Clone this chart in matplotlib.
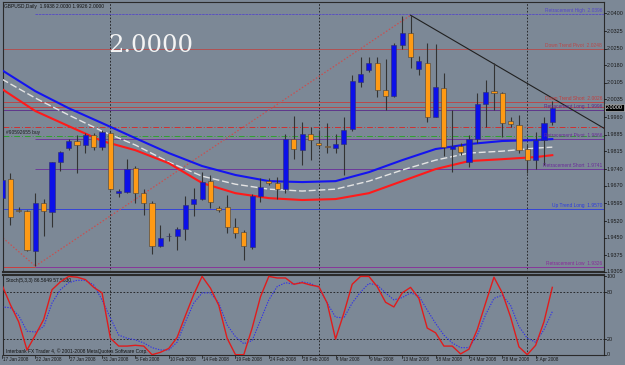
import numpy as np
import matplotlib
matplotlib.use("Agg")
import matplotlib.pyplot as plt
from matplotlib.transforms import blended_transform_factory

# --- data (GBPUSD daily) ---
opens = [1.9617, 1.9698, 1.9566, 1.9562, 1.9393, 1.9596, 1.9558, 1.9770, 1.9829, 1.9859,
         1.9842, 1.9884, 1.9833, 1.9892, 1.9638, 1.9643, 1.9744, 1.9638, 1.9596, 1.9414,
         1.9456, 1.9456, 1.9486, 1.9592, 1.9613, 1.9689, 1.9575, 1.9579, 1.9494, 1.9473,
         1.9409, 1.9626, 1.9689, 1.9681, 1.9655, 1.9867, 1.9820, 1.9888, 1.9850, 1.9837,
         1.9829, 1.9846, 1.9909, 2.0109, 2.0159, 2.0189, 2.0075, 2.0049, 2.0265, 2.0316,
         2.0164, 2.0189, 1.9960, 2.0083, 1.9825, 1.9837, 1.9770, 1.9867, 2.0015, 2.0070,
         2.0062, 1.9943, 1.9926, 1.9825, 1.9778, 1.9863, 1.9938]
highs = [1.9787, 1.9723, 1.9579, 1.9566, 1.9638, 1.9613, 1.9772, 1.9815, 1.9867, 1.9884,
         1.9892, 1.9892, 1.9905, 1.9901, 1.9655, 1.9782, 1.9752, 1.9655, 1.9604, 1.9503,
         1.9469, 1.9494, 1.9626, 1.9659, 1.9727, 1.9715, 1.9583, 1.9630, 1.9532, 1.9481,
         1.9634, 1.9702, 1.9702, 1.9706, 1.9888, 1.9964, 1.9939, 1.9918, 1.9905, 1.9935,
         1.9888, 1.9960, 2.0138, 2.0215, 2.0215, 2.0215, 2.0206, 2.0274, 2.0388, 2.0392,
         2.0219, 2.0274, 2.0270, 2.0147, 1.9990, 1.9850, 1.9884, 2.0062, 2.0117, 2.0189,
         2.0066, 1.9960, 1.9969, 1.9842, 1.9897, 1.9960, 2.0030]
lows = [1.9609, 1.9503, 1.9558, 1.9393, 1.9329, 1.9456, 1.9494, 1.9731, 1.9820, 1.9723,
        1.9808, 1.9820, 1.9820, 1.9651, 1.9621, 1.9638, 1.9596, 1.9545, 1.9380, 1.9409,
        1.9435, 1.9397, 1.9439, 1.9541, 1.9609, 1.9575, 1.9558, 1.9469, 1.9448, 1.9354,
        1.9401, 1.9600, 1.9672, 1.9613, 1.9638, 1.9782, 1.9757, 1.9778, 1.9833, 1.9808,
        1.9808, 1.9715, 1.9901, 2.0087, 2.0151, 2.0045, 1.9990, 2.0045, 2.0248, 2.0168,
        2.0138, 1.9939, 1.9960, 1.9795, 1.9727, 1.9799, 1.9748, 1.9850, 1.9918, 1.9990,
        1.9875, 1.9918, 1.9808, 1.9723, 1.9740, 1.9757, 1.9926]
closes = [1.9693, 1.9537, 1.9562, 1.9397, 1.9596, 1.9562, 1.9770, 1.9812, 1.9859, 1.9842,
          1.9884, 1.9833, 1.9897, 1.9655, 1.9647, 1.9740, 1.9638, 1.9596, 1.9414, 1.9448,
          1.9458, 1.9486, 1.9587, 1.9613, 1.9685, 1.9600, 1.9568, 1.9494, 1.9469, 1.9414,
          1.9626, 1.9664, 1.9681, 1.9655, 1.9867, 1.9825, 1.9888, 1.9863, 1.9842, 1.9833,
          1.9846, 1.9905, 2.0113, 2.0143, 2.0189, 2.0075, 2.0049, 2.0265, 2.0316, 2.0215,
          2.0198, 1.9960, 2.0087, 1.9833, 1.9837, 1.9812, 1.9867, 2.0015, 2.0066, 2.0062,
          1.9935, 1.9931, 1.9820, 1.9778, 1.9863, 1.9935, 2.0000]

# moving averages, sampled every 4 bars
ma_bars = [0, 4, 8, 12, 16, 20, 24, 28, 32, 36, 40, 44, 48, 52, 56, 60, 64, 66]
ma_blue = [2.0159, 2.0070, 1.9998, 1.9935, 1.9871, 1.9808, 1.9753, 1.9715, 1.9689,
           1.9685, 1.9689, 1.9727, 1.9778, 1.9825, 1.9846, 1.9859, 1.9863, 1.9867]
ma_white = [2.0121, 2.0041, 1.9969, 1.9901, 1.9842, 1.9770, 1.9710, 1.9676, 1.9655,
            1.9647, 1.9655, 1.9689, 1.9736, 1.9778, 1.9808, 1.9816, 1.9829, 1.9833]
ma_red = [2.0079, 1.9986, 1.9922, 1.9859, 1.9820, 1.9765, 1.9681, 1.9638, 1.9617,
          1.9609, 1.9613, 1.9638, 1.9689, 1.9740, 1.9774, 1.9782, 1.9791, 1.9799]

stoch_main = [89, 64, 42, 6, 25, 45, 83, 93, 100, 99, 96, 86, 79, 21, 11, 11, 12, 11, 0, 3,
              8, 22, 50, 77, 100, 85, 63, 21, 0, 0, 34, 74, 100, 98, 98, 90, 92, 89, 87, 66,
              20, 53, 90, 100, 100, 87, 67, 61, 79, 86, 72, 34, 28, 11, 11, 1, 7, 32, 66, 99,
              79, 48, 10, 0, 12, 42, 86]
stoch_signal = [61, 60, 50, 30, 29, 36, 66, 83, 92, 95, 95, 89, 70, 47, 25, 21, 19, 15, 9, 6,
                6, 16, 42, 66, 79, 79, 66, 38, 23, 14, 18, 44, 70, 87, 92, 90, 93, 91, 86, 66,
                48, 47, 66, 80, 91, 89, 79, 70, 73, 79, 75, 57, 40, 25, 15, 9, 9, 25, 51, 72,
                76, 63, 36, 21, 16, 32, 55]

date_labels = ["17 Jan 2008", "22 Jan 2008", "27 Jan 2008", "31 Jan 2008", "5 Feb 2008",
               "10 Feb 2008", "14 Feb 2008", "19 Feb 2008", "24 Feb 2008", "28 Feb 2008",
               "4 Mar 2008", "9 Mar 2008", "13 Mar 2008", "18 Mar 2008", "24 Mar 2008",
               "28 Mar 2008", "2 Apr 2008"]
price_ticks = [2.0400, 2.0325, 2.0250, 2.0180, 2.0105, 2.0035, 1.9960, 1.9885, 1.9815,
               1.9740, 1.9670, 1.9595, 1.9520, 1.9450, 1.9375, 1.9305]
stoch_ticks = [100, 80, 20, 0]

# named horizontal levels: (name, price, colour, starts at bar)
levels = [("Retracement High", 2.0396, "#5548c8", 4),
          ("Down Trend Pivot", 2.0248, "#b84848", None),
          ("Down Trend Short", 2.0026, "#c23e3e", None),
          ("Retracement Long", 1.9992, "#5a2a8a", None),
          ("Retracement Pivot", 1.9866, "#6a2c9a", 4),
          ("Retracement Short", 1.9741, "#6a2c9a", 4),
          ("Up Trend Long", 1.9570, "#2a3ae0", None),
          ("Retracement Low", 1.9326, "#8a2a9a", 4)]
label_text = {"Retracement High": "2.0396", "Down Trend Pivot": "2.0248",
              "Down Trend Short": "2.0026", "Retracement Long": "1.9996",
              "Retracement Pivot": "1.9866", "Retracement Short": "1.9741",
              "Up Trend Long": "1.9570", "Retracement Low": "1.9326"}
last_price = 2.0000

bg = "#7c8896"
W, H = 625, 365
ylo, yhi = 1.9304, 2.0448
slo, shi = -0.4, 101.8
plt.rcParams['font.family'] = ['Liberation Sans', 'DejaVu Sans']
fig = plt.figure(figsize=(6.25, 3.65), dpi=100, facecolor=bg)

xl = (0.12, 72.2)
ax = fig.add_axes([3 / W, (H - 272) / H, 601 / W, 270 / H], facecolor=bg)
ax2 = fig.add_axes([3 / W, 10 / H, 601 / W, 80 / H], facecolor=bg)

x = np.arange(len(opens))
o = np.array(opens); c = np.array(closes)
up = c >= o

# grid
for a in (ax, ax2):
    for gx in (13, 38, 63):
        a.axvline(gx, color="#1a1a1a", lw=0.6, ls=(0, (2, 2)), zorder=1)

# levels
tr = blended_transform_factory(ax.transAxes, ax.transData)
for name, p, col, start in levels:
    x0 = start if start is not None else xl[0]
    ls = (0, (3, 1)) if name == "Retracement High" else "-"
    ax.hlines(p, x0, xl[1], color=col, lw=0.6, ls=ls, zorder=2)
    ax.text(0.997, p + 0.0004, f"{name}  {label_text[name]}", transform=tr,
            ha="right", va="bottom", fontsize=3.5, color=col, zorder=6)
ax.hlines(1.9326, xl[0], 4, color="#d83030", lw=0.6, zorder=2)
ax.hlines(2.0004, xl[0], xl[1], color="#c23e3e", lw=0.6, zorder=2)
# order lines
ax.hlines(1.9918, xl[0], xl[1], color="#d03030", lw=0.7, ls=(0, (6, 2, 1, 2)), zorder=2)
ax.hlines(1.9880, xl[0], xl[1], color="#2fa02f", lw=0.7, ls=(0, (6, 2, 1, 2)), zorder=2)
ax.text(0.5, 1.9884, "#90592655 buy", fontsize=3.5, color="#202020", va="bottom", zorder=6)

# trend lines
ax.plot([xl[0], 4], [1.9448, 1.9329], color="#c85050", lw=0.9, ls=(0, (1.2, 1.5)), zorder=2)
ax.plot([4, 49], [1.9329, 2.0392], color="#c85050", lw=0.9, ls=(0, (1.2, 1.5)), zorder=2)
ax.plot([49, xl[1]], [2.0392, 1.9913], color="#202020", lw=0.8, zorder=2)

# moving averages
ax.plot(ma_bars, ma_blue, color="#1414f0", lw=1.5, zorder=3)
ax.plot(ma_bars, ma_white, color="#e4e4e4", lw=1.0, ls=(0, (5, 2)), zorder=3)
ax.plot(ma_bars, ma_red, color="#ff1a1a", lw=1.5, zorder=3)

# candles
ax.vlines(x, lows, highs, color="#333333", lw=0.8, zorder=4)
body_lo = np.minimum(o, c); body_h = np.maximum(np.abs(c - o), 0.00025)
ax.bar(x[up], body_h[up], bottom=body_lo[up], width=0.62, color="#0c10e8",
       edgecolor="#30306a", lw=0.4, zorder=5)
ax.bar(x[~up], body_h[~up], bottom=body_lo[~up], width=0.62, color="#ff9a14",
       edgecolor="#404040", lw=0.4, zorder=5)

ax.set_xlim(*xl)
ax.set_ylim(ylo, yhi)

# big price and header
fig.text(151 / W, 1 - 46 / H, "2.0000", fontsize=17.5, family="DejaVu Serif", color="#f4f4f4",
         ha="center", va="center")
fig.text(4 / W, 1 - 6.5 / H, "GBPUSD,Daily  1.9938 2.0030 1.9926 2.0000", fontsize=3.5,
         color="#101010", va="center")

# price axis
pos = ax.get_position()
for p in price_ticks:
    yf = pos.y0 + (p - ylo) / (yhi - ylo) * pos.height
    fig.text(607 / W, yf, f"{p:.4f}", fontsize=3.9, color="#1a1a1a", va="center")
    fig.lines.append(plt.Line2D([604 / W, 606 / W], [yf, yf], color="#1a1a1a", lw=0.6,
                                transform=fig.transFigure))
yb = pos.y0 + (last_price - ylo) / (yhi - ylo) * pos.height
fig.text(606 / W, yb, f"{last_price:.4f}", fontsize=3.9, color="white", va="center",
         bbox=dict(boxstyle="square,pad=0.2", fc="black", ec="#d0d0d0", lw=0.4))

# stochastic pane
ax2.axhline(80, color="#1a1a1a", lw=0.6, ls=(0, (2, 2)))
ax2.axhline(20, color="#1a1a1a", lw=0.6, ls=(0, (2, 2)))
ax2.plot(x, stoch_signal, color="#3232e6", lw=0.8, ls=(0, (1.2, 1.2)), zorder=3)
ax2.plot(x, stoch_main, color="#e01c1c", lw=1.0, zorder=4)
ax2.set_xlim(*xl)
ax2.set_ylim(slo, shi)
ax2.text(0.5, 95, "Stoch(5,3,3) 86.5649 57.5630", fontsize=3.5, color="#101010", va="center")
ax2.text(0.5, 4, "Interbank FX Trader 4, \u00a9 2001-2008 MetaQuotes Software Corp.",
         fontsize=3.5, color="#101010", va="center")
p2 = ax2.get_position()
for v in stoch_ticks:
    yf = p2.y0 + (v - slo) / (shi - slo) * p2.height
    fig.text(607 / W, yf, str(v), fontsize=3.9, color="#1a1a1a", va="center")
    fig.lines.append(plt.Line2D([604 / W, 606 / W], [yf, yf], color="#1a1a1a", lw=0.6,
                                transform=fig.transFigure))

# dates
for i, lab in enumerate(date_labels):
    ax2.text(i * 4 + 0.1, -3, lab, fontsize=3.3, color="#1a1a1a", ha="left", va="top",
             clip_on=False)
    ax2.plot([i * 4, i * 4], [slo, -4], color="#1a1a1a", lw=0.5, clip_on=False)

for a in (ax, ax2):
    a.set_xticks([]); a.set_yticks([])
    for s in a.spines.values():
        s.set_color("#2a2a2a"); s.set_linewidth(0.8)
ax.spines['bottom'].set_linewidth(1.5)
ax2.spines['top'].set_linewidth(1.5)

fig.savefig("out.png", dpi=100, facecolor=bg)
